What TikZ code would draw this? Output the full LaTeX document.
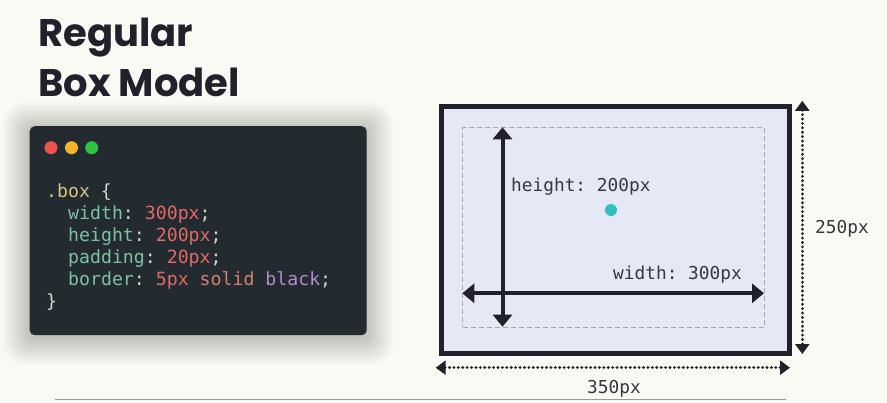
\documentclass[tikz,border=0pt]{standalone}
\usepackage{fontspec}
\setmainfont{Poppins}
\setmonofont{DejaVu Sans Mono}
\usetikzlibrary{arrows.meta,calc}
\definecolor{bg}{HTML}{FAFAF4}
\definecolor{codebg}{HTML}{232B31}
\definecolor{cred}{HTML}{F0524C}
\definecolor{cyel}{HTML}{F4B32C}
\definecolor{cgrn}{HTML}{2DC443}
\definecolor{csel}{HTML}{D7C57C}
\definecolor{cbr}{HTML}{D5D5D0}
\definecolor{cprop}{HTML}{7DBFA3}
\definecolor{cval}{HTML}{DF6A66}
\definecolor{csolid}{HTML}{D2816B}
\definecolor{cpur}{HTML}{B48AD2}
\definecolor{boxfill}{HTML}{E6E8F5}
\definecolor{ink}{HTML}{20212A}
\definecolor{dashgray}{HTML}{A9AAB0}
\definecolor{dotcyan}{HTML}{2EC2C4}
\begin{document}
\begin{tikzpicture}[x=1pt,y=-1pt,
  title/.style={anchor=base west,inner sep=0pt,font=\fontsize{38.5}{38.5}\selectfont\bfseries,text=ink},
  codeline/.style={anchor=base west,inner sep=0pt,font=\fontsize{18.2}{18.2}\selectfont\ttfamily,text=cprop},
  lbl/.style={anchor=base west,inner sep=0pt,font=\fontsize{17.8}{17.8}\selectfont\ttfamily,text=ink!90},
  winbtn/.style={circle,inner sep=0pt,minimum size=13pt},
  bigarrow/.style={ink,line width=4pt,{Triangle[width=19pt,length=12pt]}-{Triangle[width=19pt,length=12pt]}},
  dotarrow/.style={ink,line width=3.2pt,dash pattern=on 0.01pt off 4.4pt,line cap=round,
     {Triangle[width=14pt,length=10pt,sep=-1pt]}-{Triangle[width=14pt,length=10pt,sep=-1pt]}}
]
\useasboundingbox[fill=bg] (0,0) rectangle (887,402);
% title
\node[title] (t1) at (38,46.7) {Regular};
\node[title] (t2) at (38,96.7) {Box Model};
% soft shadow of code window
\foreach \i in {1,...,18}{
  \fill[black,opacity=0.011,rounded corners=5pt+\i pt]
    ($(29.5,129)+(-\i*1.5,-\i*1.5)$) rectangle ($(366.5,338)+(\i*1.5,\i*1.5)$);
}
% code window
\node[fill=codebg,rounded corners=5pt,minimum width=337pt,minimum height=209pt,
  inner sep=0pt,anchor=north west] (win) at (29.5,126) {};
\node[winbtn,fill=cred] (b1) at (51,147.7) {};
\node[winbtn,fill=cyel] (b2) at (71.5,147.7) {};
\node[winbtn,fill=cgrn] (b3) at (91.7,147.7) {};
\node[codeline] (c1) at (46,197) {\textcolor{csel}{.box} \textcolor{cbr}{\{}};
\node[codeline] (c2) at (68,219.5) {width\textcolor{cbr}{:} \textcolor{cval}{300px}\textcolor{cbr}{;}};
\node[codeline] (c3) at (68,241.2) {height\textcolor{cbr}{:} \textcolor{cval}{200px}\textcolor{cbr}{;}};
\node[codeline] (c4) at (68,263) {padding\textcolor{cbr}{:} \textcolor{cval}{20px}\textcolor{cbr}{;}};
\node[codeline] (c5) at (68,285) {border\textcolor{cbr}{:} \textcolor{cval}{5px} \textcolor{csolid}{solid} \textcolor{cpur}{black}\textcolor{cbr}{;}};
\node[codeline] (c6) at (46,307) {\textcolor{cbr}{\}}};
% box model diagram
\node[draw=ink,line width=5pt,fill=boxfill,inner sep=0pt,minimum width=347.5pt,minimum height=246.5pt,anchor=north west]
  (outer) at (439.2,104.2) {};
\node[draw=dashgray,line width=1pt,dash pattern=on 5pt off 3pt,inner sep=0pt,
  minimum width=301.7pt,minimum height=199.4pt,anchor=north west] (content) at (462.3,127.3) {};
\coordinate (vtop) at (502.5,127.3);
\coordinate (vbot) at (502.5,326.7);
\coordinate (hl) at (462.3,293.3);
\coordinate (hr) at (764,293.3);
\draw[bigarrow] (vtop) -- (vbot);
\draw[bigarrow] (hl) -- (hr);
\node[lbl] (hlab) at (511,191) {height: 200px};
\node[lbl] (wlab) at (613,279) {width: 300px};
\node[circle,fill=dotcyan,inner sep=0pt,minimum size=12pt] (dot) at (611,210) {};
% outer dimensions
\coordinate (rtop) at (802.3,101.8);
\coordinate (rbot) at (802.3,353);
\coordinate (bl) at (436.7,367.7);
\coordinate (br) at (789,367.7);
\draw[dotarrow] (rtop) -- (rbot);
\draw[dotarrow] (bl) -- (br);
\node[lbl] (r250) at (815,233) {250px};
\node[lbl] (b350) at (587,393) {350px};
% bottom rule
\coordinate (ruleL) at (55,399.5);
\coordinate (ruleR) at (786,399.5);
\draw[gray!80,line width=1pt] (ruleL) -- (ruleR);
\end{tikzpicture}
\end{document}
